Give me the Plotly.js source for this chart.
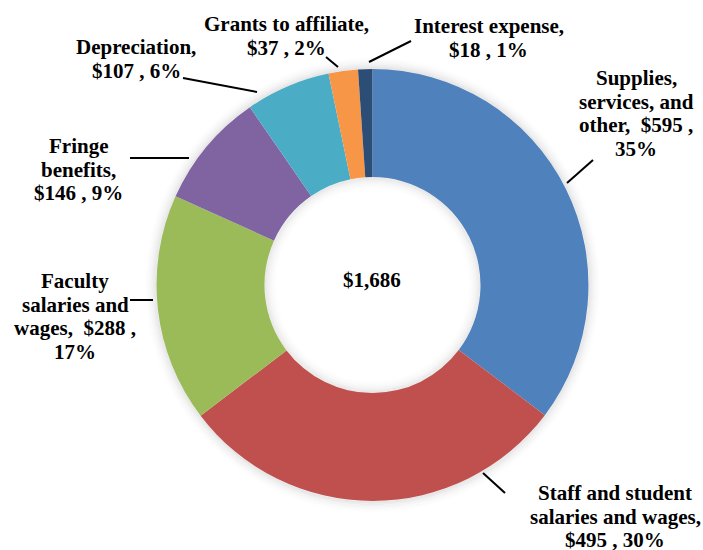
<!DOCTYPE html>
<html>
<head>
<meta charset="utf-8">
<script src="https://cdn.plot.ly/plotly-3.0.1.min.js"></script>
<style>html,body{margin:0;padding:0;background:#fff}#chart{width:703px;height:550px}</style>
</head>
<body>
<div id="chart"></div>
<script>
// ---- data ----
var categories = ["Supplies, services, and other", "Staff and student salaries and wages",
  "Faculty salaries and wages", "Fringe benefits", "Depreciation", "Grants to affiliate", "Interest expense"];
var values = [595, 495, 288, 146, 107, 37, 18];
var percents = [35, 30, 17, 9, 6, 2, 1];
var colors = ["#4F81BD", "#C0504D", "#9BBB59", "#8064A2", "#4BACC6", "#F79646", "#2C4D75"];

// ---- label layout (pixel positions of labels & leader lines) ----
var W = 703, H = 550;
var wordsPerLine = [[1,2,3,1],[3,3,3],[1,2,3,1],[1,1,3],[1,3],[3,3],[2,3]];
var labelPos = [ // [centre x, first baseline y]
  [636, 85], [615, 500], [75, 288], [78, 153], [136, 54], [286, 31], [489, 33]
];
var leaders = [
  [567,183,593,160], [483,473,505,493], [130,300,153,300], [130,158,189,158],
  [183,78,257,92], [326,57,338,67], [369,62,411,41]
];
var lineGap = 23.6, fs = 21;
var fam = "Liberation Serif";

function px(x){return x / W;}
function py(y){return 1 - y / H;}

var annotations = [];
categories.forEach(function(c, i){
  var extra = i === 0 || i === 2 ? "  " : " ";
  var text = c + "," + extra + "$" + values[i] + " , " + percents[i] + "%";
  var words = text.split(" ").filter(function(w){return w.length;});
  var k = 0;
  wordsPerLine[i].forEach(function(n, li){
    var ws = words.slice(k, k + n); k += n;
    var line = ws.join(" ");
    if (extra === "  ") line = line.replace(/, \$/, ",&nbsp; $");
    annotations.push({
      xref: "paper", yref: "paper", x: px(labelPos[i][0]), y: py(labelPos[i][1] + li * lineGap - 7),
      text: "<b>" + line + "</b>", showarrow: false, xanchor: "center", yanchor: "middle",
      font: {family: fam, size: fs, color: "#000"}
    });
  });
});
var total = values.reduce(function(a,b){return a+b;}, 0);
annotations.push({
  xref: "paper", yref: "paper", x: px(372), y: py(280),
  text: "<b>$" + total.toLocaleString("en-US") + "</b>", showarrow: false, xanchor: "center", yanchor: "middle",
  font: {family: fam, size: fs, color: "#000"}
});

var shapes = [];
// soft shadow rings around the donut (decoration)
var cx = 372.5, cy = 285, R = 216, r = 108;
function ring(rad, alpha){
  return {type: "circle", xref: "paper", yref: "paper",
    x0: px(cx - rad), x1: px(cx + rad), y0: py(cy + rad), y1: py(cy - rad),
    line: {color: "rgba(0,0,0," + alpha.toFixed(4) + ")", width: 1.2}, fillcolor: "rgba(0,0,0,0)", layer: "above"};
}
for (var k = 1; k <= 14; k++) {
  var a = 0.10 * Math.pow(1 - k / 15, 2);
  shapes.push(ring(R + k - 0.3, a));
  shapes.push(ring(r - k + 0.3, a * 0.9));
}
leaders.forEach(function(l){
  shapes.push({type: "line", xref: "paper", yref: "paper", x0: px(l[0]), y0: py(l[1]), x1: px(l[2]), y1: py(l[3]),
    line: {color: "#000", width: 2}, layer: "above"});
});

var trace = {
  type: "pie", labels: categories, values: values, hole: 0.5, sort: false, direction: "clockwise",
  rotation: 0, textinfo: "none", hoverinfo: "skip",
  marker: {colors: colors, line: {width: 0}},
  domain: {x: [0.2226, 0.8371], y: [0.0891, 0.8745]}
};

Plotly.newPlot("chart", [trace], {
  width: W, height: H, margin: {l: 0, r: 0, t: 0, b: 0},
  showlegend: false, paper_bgcolor: "#fff", plot_bgcolor: "#fff",
  font: {family: fam},
  annotations: annotations, shapes: shapes
}, {displayModeBar: false, staticPlot: true});
</script>
</body>
</html>
